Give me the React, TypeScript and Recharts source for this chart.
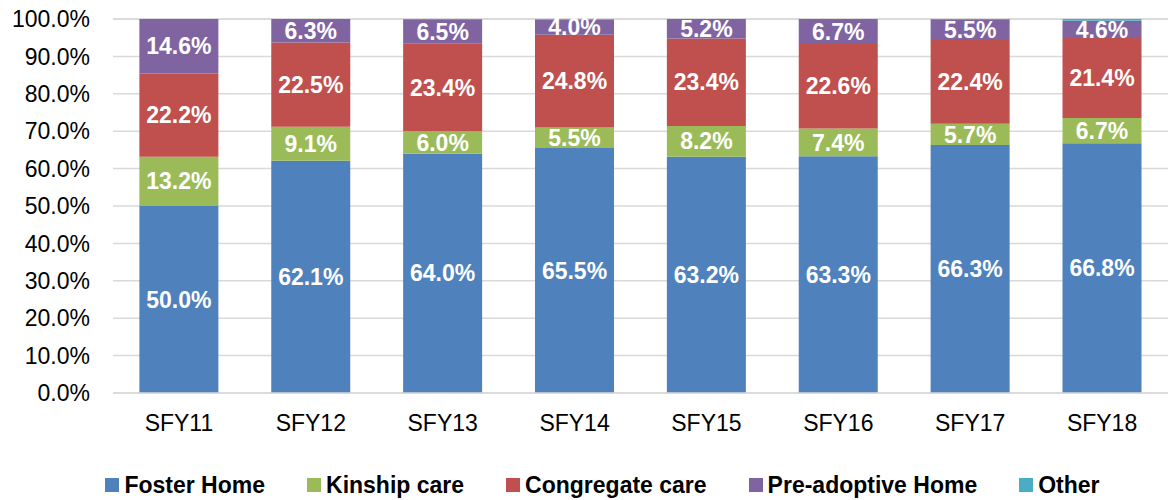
import { Bar, BarChart, CartesianGrid, LabelList, Legend, XAxis, YAxis } from "recharts";

const YEARS = ["SFY11", "SFY12", "SFY13", "SFY14", "SFY15", "SFY16", "SFY17", "SFY18"];
const FOSTER_HOME = [50.0, 62.1, 64.0, 65.5, 63.2, 63.3, 66.3, 66.8];
const KINSHIP_CARE = [13.2, 9.1, 6.0, 5.5, 8.2, 7.4, 5.7, 6.7];
const CONGREGATE_CARE = [22.2, 22.5, 23.4, 24.8, 23.4, 22.6, 22.4, 21.4];
const PRE_ADOPTIVE = [14.6, 6.3, 6.5, 4.0, 5.2, 6.7, 5.5, 4.6];
const OTHER = [0, 0, 0.1, 0.2, 0, 0, 0.1, 0.5];
const Y_TICKS = [0, 10, 20, 30, 40, 50, 60, 70, 80, 90, 100];

const SERIES = [
  { key: "foster", name: "Foster Home", color: "#4F81BD", label: true },
  { key: "kinship", name: "Kinship care", color: "#9BBB59", label: true },
  { key: "congregate", name: "Congregate care", color: "#C0504D", label: true },
  { key: "preadoptive", name: "Pre-adoptive Home", color: "#8064A2", label: true },
  { key: "other", name: "Other", color: "#4BACC6", label: false },
];

const data = YEARS.map((year, i) => ({
  year,
  foster: FOSTER_HOME[i],
  kinship: KINSHIP_CARE[i],
  congregate: CONGREGATE_CARE[i],
  preadoptive: PRE_ADOPTIVE[i],
  other: OTHER[i],
}));

const FONT = '"Liberation Sans", Arial, sans-serif';

const pct = (v: number) => `${Number(v).toFixed(1)}%`;

function LegendBox() {
  return (
    <div
      style={{
        height: 40,
        paddingTop: 10,
        boxSizing: "border-box",
        display: "flex",
        justifyContent: "center",
        alignItems: "center",
        gap: 42,
        marginLeft: 37,
        fontFamily: FONT,
        fontSize: 23,
        fontWeight: 700,
        color: "#000",
      }}
    >
      {SERIES.map((s) => (
        <div key={s.key} style={{ display: "flex", alignItems: "center", gap: 5 }}>
          <span style={{ width: 14, height: 14, background: s.color, display: "inline-block" }} />
          <span>{s.name}</span>
        </div>
      ))}
    </div>
  );
}

export default function App() {
  return (
    <div style={{ position: "absolute", left: 0, top: 0, width: 1168, height: 500, background: "#fff" }}>
      <BarChart
        width={1168}
        height={500}
        data={data}
        margin={{ top: 19, right: 0, left: 0, bottom: 0 }}
        barCategoryGap="20%"
      >
        <CartesianGrid vertical={false} stroke="#D9D9D9" strokeWidth={1.5} />
        <XAxis
          dataKey="year"
          height={67}
          axisLine={{ stroke: "#D9D9D9", strokeWidth: 1.5 }}
          tickLine={false}
          tickSize={0}
          tickMargin={22}
          tick={{ fontSize: 23, fill: "#000", fontFamily: FONT }}
        />
        <YAxis
          width={113}
          domain={[0, 100]}
          ticks={Y_TICKS}
          axisLine={false}
          tickLine={false}
          tickSize={0}
          tickMargin={23}
          tickFormatter={pct}
          tick={{ fontSize: 23, fill: "#000", fontFamily: FONT }}
        />
        <Legend verticalAlign="bottom" content={() => <LegendBox />} />
        {SERIES.map((s) => (
          <Bar key={s.key} dataKey={s.key} name={s.name} stackId="a" fill={s.color} isAnimationActive={false}>
            {s.label ? (
              <LabelList
                dataKey={s.key}
                position="center"
                formatter={(v: any) => pct(v)}
                style={{ fill: "#fff", fontSize: 23, fontWeight: 700, fontFamily: FONT }}
              />
            ) : null}
          </Bar>
        ))}
      </BarChart>
    </div>
  );
}
